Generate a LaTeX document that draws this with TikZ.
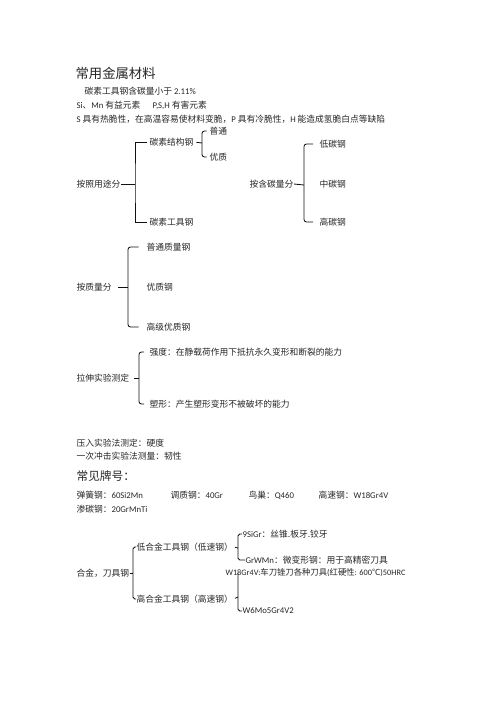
\documentclass[tikz,border=0pt]{standalone}
\usepackage{fontspec}
\setmainfont{Noto Sans CJK SC}
\newfontfamily\latfont{Carlito}
\newcommand{\lat}[1]{{\latfont #1}}
\usepackage{xcolor}
\usepackage{tikz}
\definecolor{note-ink}{HTML}{262626}
\definecolor{note-line}{HTML}{111111}

\begin{document}
\begin{tikzpicture}[
    x=1.2pt, y=-1.2pt,
    txt/.style={anchor=west, inner sep=0.5pt, text=note-ink,
                font=\fontsize{10.5}{12}\selectfont},
    ttl/.style={txt, font=\fontsize{16}{18}\selectfont},
    brk/.style={line width=1pt, note-line},
    brc/.style={brk, rounded corners=3pt},
]
    \useasboundingbox (0,0) rectangle (496,702);

    \node[ttl] (title)   at (75,73)  {常用金属材料};
    \node[txt] (cnote)   at (84,91)  {碳素工具钢含碳量小于 \lat{2.11\%}};
    \node[txt] (good)    at (76,105) {\lat{Si}、\lat{Mn} 有益元素};
    \node[txt] (bad)     at (152,105) {\lat{P,S,H} 有害元素};
    \node[txt] (brittle) at (76,119) {\lat{S} 具有热脆性，在高温容易使材料变脆，\lat{P} 具有冷脆性，\lat{H} 能造成氢脆白点等缺陷};

    % by use
    \node[txt] (use)     at (76,184)  {按照用途分};
    \node[txt] (cstruct) at (149,142) {碳素结构钢};
    \node[txt] (ctool)   at (149,222) {碳素工具钢};
    \node[txt] (plain)   at (209,131) {普通};
    \node[txt] (fine)    at (209,157) {优质};
    \coordinate (b-use)    at (135,184);
    \coordinate (b-struct) at (202,143);
    \draw[brk] (use.east) -- (b-use);
    \draw[brk, shorten <=2pt, shorten >=2pt] (cstruct.west) -| (b-use) |- (ctool.west);
    \draw[brk, shorten <=3pt] (cstruct.east) -- (b-struct);
    \draw[brc, shorten <=3pt, shorten >=3pt] (plain.west) -| (b-struct) |- (fine.west);

    % by carbon content
    \node[txt] (carbon) at (249,184) {按含碳量分};
    \node[txt] (low)    at (319,144) {低碳钢};
    \node[txt] (mid)    at (319,184) {中碳钢};
    \node[txt] (high)   at (319,222) {高碳钢};
    \coordinate (b-carbon) at (304,185);
    \draw[brk] (carbon.east) -- (b-carbon);
    \draw[brc, shorten <=7pt, shorten >=7pt] (low.west) -| (b-carbon) |- (high.west);

    % by quality
    \node[txt] (quality) at (76,287)  {按质量分};
    \node[txt] (ordq)    at (146,247) {普通质量钢};
    \node[txt] (hq)      at (146,287) {优质钢};
    \node[txt] (shq)     at (146,327) {高级优质钢};
    \coordinate (b-quality) at (128,287);
    \draw[brk, shorten <=7pt] (quality.east) -- (b-quality);
    \draw[brc, shorten <=9pt, shorten >=9pt] (ordq.west) -| (b-quality) |- (shq.west);

    % tensile test
    \node[txt] (tensile)  at (76,378)  {拉伸实验测定};
    \node[txt] (strength) at (149,352) {强度：在静载荷作用下抵抗永久变形和断裂的能力};
    \node[txt] (plastic)  at (149,404) {塑形：产生塑形变形不被破坏的能力};
    \coordinate (b-tensile) at (139,378);
    \draw[brk, shorten <=5pt] (tensile.east) -- (b-tensile);
    \draw[brc, shorten <=6pt, shorten >=6pt] (strength.west) -| (b-tensile) |- (plastic.west);

    \node[txt] (hard)  at (76,443) {压入实验法测定：硬度};
    \node[txt] (tough) at (76,456) {一次冲击实验法测量：韧性};
    \node[txt, font=\fontsize{14}{16}\selectfont] (grades) at (76,476) {常见牌号：};
    \node[txt] (spring) at (76,495)  {弹簧钢：\lat{60Si2Mn}};
    \node[txt] (qt)     at (170,495) {调质钢：\lat{40Gr}};
    \node[txt] (nest)   at (248,495) {鸟巢：\lat{Q460}};
    \node[txt] (hss)    at (318,495) {高速钢：\lat{W18Gr4V}};
    \node[txt] (carb)   at (76,509)  {渗碳钢：\lat{20GrMnTi}};

    % alloy tool steel
    \node[txt] (alloy) at (76,573)  {合金，刀具钢};
    \node[txt] (lowa)  at (136,547) {低合金工具钢（低速钢）};
    \node[txt] (higha) at (136,599) {高合金工具钢（高速钢）};
    \node[txt] (sigr)  at (242,534) {\lat{9SiGr}：丝锥.板牙.铰牙};
    \node[txt] (gwm)   at (245,560) {\lat{GrWMn}：微变形钢：用于高精密刀具};
    \node[txt, font=\fontsize{10}{12}\selectfont] (w18) at (225,573)
        {\lat{W18Gr4V:}车刀锉刀各种刀具\lat{(}红硬性\lat{: 600}℃\lat{)}\lat{50HRC}};
    \node[txt] (w6)    at (242,611) {\lat{W6Mo5Gr4V2}};
    \coordinate (b-alloy) at (133,573);
    \coordinate (b-low)   at (238,548);
    \coordinate (b-high)  at (238,597);
    \draw[brk] (alloy.east) -- (b-alloy);
    \draw[brc, rounded corners=2pt] (lowa.west) -| (b-alloy) |- (higha.west);
    \draw[brk, shorten <=2pt] (lowa.east) -- (b-low);
    \draw[brc, rounded corners=2pt] (sigr.west) -| (b-low) |- (gwm.west);
    \draw[brk, shorten <=2pt] (higha.east) -- (b-high);
    \draw[brc, rounded corners=2pt] (w18.west -| b-high) -- (b-high) |- (w6.west);
\end{tikzpicture}
\end{document}
